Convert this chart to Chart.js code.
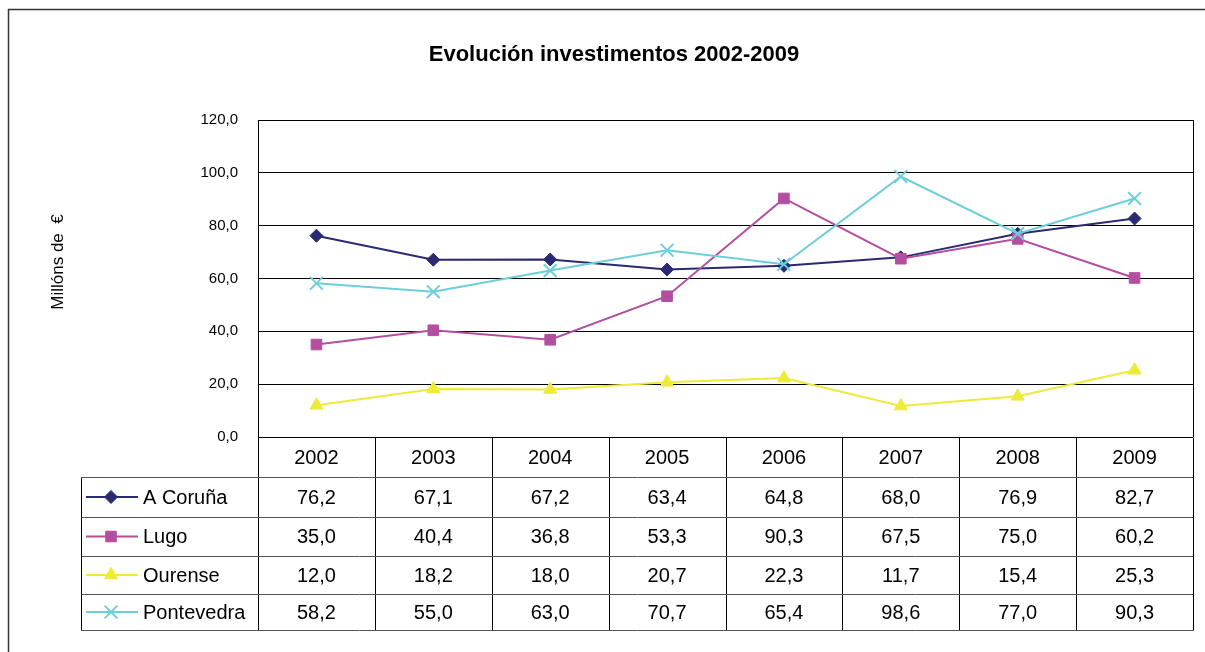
<!DOCTYPE html>
<html><head><meta charset="utf-8">
<script src="https://cdn.jsdelivr.net/npm/chart.js@4/dist/chart.umd.min.js"></script>
<style>html,body{margin:0;padding:0;background:#fff;overflow:hidden}canvas{display:block}</style>
</head><body><canvas id="c" width="1205" height="652"></canvas>
<script>
const years = ['2002','2003','2004','2005','2006','2007','2008','2009'];
const aCoruna    = [76.2, 67.1, 67.2, 63.4, 64.8, 68.0, 76.9, 82.7];
const lugo       = [35.0, 40.4, 36.8, 53.3, 90.3, 67.5, 75.0, 60.2];
const ourense    = [12.0, 18.2, 18.0, 20.7, 22.3, 11.7, 15.4, 25.3];
const pontevedra = [58.2, 55.0, 63.0, 70.7, 65.4, 98.6, 77.0, 90.3];
const seriesNames = ['A Coruña', 'Lugo', 'Ourense', 'Pontevedra'];
const yMin = 0, yMax = 120, yStep = 20;
const chartTitle = 'Evolución investimentos 2002-2009';
const yAxisTitle = 'Millóns de  €';

const FONT = '"Liberation Sans", Arial, sans-serif';
Chart.defaults.font.family = FONT;
Chart.defaults.color = '#000';

const fmt = v => Number(v).toFixed(1).replace('.', ',');

const styles = [
  {color:'#2A2A72', pointStyle:'rectRot', radius:6.5, bw:1},
  {color:'#B44FA0', pointStyle:'rect', radius:7.5, bw:1},
  {color:'#EEEA3A', pointStyle:'triangle', radius:7.5, bw:1},
  {color:'#6DCED9', pointStyle:'crossRot', radius:9, bw:2}
];
const seriesData = [aCoruna, lugo, ourense, pontevedra];

function drawMarker(ctx, st, x, y) {
  ctx.save();
  ctx.fillStyle = st.color; ctx.strokeStyle = st.color; ctx.lineWidth = st.bw;
  if (Chart.helpers && Chart.helpers.drawPoint) {
    Chart.helpers.drawPoint(ctx, {pointStyle: st.pointStyle, radius: st.radius, borderWidth: st.bw, rotation: 0}, x, y);
  }
  ctx.restore();
}

const frameAndTable = {
  id: 'frameAndTable',
  beforeDraw(chart) {
    const ctx = chart.ctx;
    ctx.save();
    ctx.fillStyle = '#fff';
    ctx.fillRect(0, 0, chart.width, chart.height);
    ctx.strokeStyle = '#333';
    ctx.lineWidth = 1.5;
    ctx.strokeRect(8.5, 9.5, chart.width + 20, chart.height + 20);
    ctx.restore();
  },
  afterDraw(chart) {
    const ctx = chart.ctx, ca = chart.chartArea, xs = chart.scales.x;
    const n = years.length;
    const step = (ca.right - ca.left) / n;
    const rows = [ca.bottom, 477, 517, 556, 594, 630];
    const legendLeft = 81;
    const a = v => Math.round(v) + 0.5;
    ctx.save();
    // y axis title
    ctx.save();
    ctx.translate(58, 262);
    ctx.rotate(-Math.PI / 2);
    ctx.font = '17px ' + FONT;
    ctx.fillStyle = '#000';
    ctx.textAlign = 'center'; ctx.textBaseline = 'middle';
    ctx.fillText(yAxisTitle, 0, 0);
    ctx.restore();

    ctx.lineWidth = 1;
    // plot right border
    ctx.strokeStyle = '#000';
    ctx.beginPath(); ctx.moveTo(a(ca.right), ca.top); ctx.lineTo(a(ca.right), ca.bottom); ctx.stroke();
    // table vertical lines
    for (let i = 0; i <= n; i++) {
      const xx = a(ca.left + i * step);
      ctx.beginPath(); ctx.moveTo(xx, a(rows[0])); ctx.lineTo(xx, a(rows[5])); ctx.stroke();
    }
    ctx.beginPath(); ctx.moveTo(a(legendLeft), a(rows[1])); ctx.lineTo(a(legendLeft), a(rows[5])); ctx.stroke();
    // horizontal lines
    ctx.strokeStyle = '#555';
    for (let r = 1; r <= 5; r++) {
      ctx.beginPath(); ctx.moveTo(a(legendLeft), a(rows[r])); ctx.lineTo(a(ca.right), a(rows[r])); ctx.stroke();
    }
    // texts
    ctx.fillStyle = '#000';
    ctx.font = '20px ' + FONT;
    ctx.textAlign = 'center'; ctx.textBaseline = 'middle';
    years.forEach((yr, i) => ctx.fillText(yr, xs.getPixelForValue(i), (rows[0] + rows[1]) / 2 + 1));
    seriesData.forEach((arr, s) => {
      const cy = (rows[s + 1] + rows[s + 2]) / 2 + 1;
      arr.forEach((v, i) => ctx.fillText(fmt(v), xs.getPixelForValue(i), cy));
    });
    // legend keys
    seriesNames.forEach((name, s) => {
      const cy = (rows[s + 1] + rows[s + 2]) / 2;
      const st = styles[s];
      ctx.strokeStyle = st.color; ctx.lineWidth = 2;
      ctx.beginPath(); ctx.moveTo(86, cy); ctx.lineTo(138, cy); ctx.stroke();
      drawMarker(ctx, st, 111, cy);
      ctx.fillStyle = '#000'; ctx.textAlign = 'left';
      ctx.fillText(name, 143, cy + 1);
    });
    ctx.restore();
  }
};

new Chart(document.getElementById('c'), {
  type: 'line',
  data: {
    labels: years,
    datasets: seriesData.map((arr, s) => ({
      label: seriesNames[s],
      data: arr,
      borderColor: styles[s].color,
      backgroundColor: styles[s].color,
      pointBackgroundColor: styles[s].color,
      pointBorderColor: styles[s].color,
      pointStyle: styles[s].pointStyle,
      pointRadius: styles[s].radius,
      pointBorderWidth: styles[s].bw,
      borderWidth: 2,
      tension: 0,
      fill: false,
      order: 4 - s
    }))
  },
  options: {
    responsive: false,
    animation: false,
    events: [],
    layout: {padding: {left: 35, right: 12, top: 0, bottom: 215}},
    plugins: {
      legend: {display: false},
      tooltip: {enabled: false},
      title: {
        display: true, text: chartTitle, color: '#000',
        font: {size: 22, weight: 'bold', family: FONT},
        padding: {top: 42, bottom: 51.6}
      }
    },
    scales: {
      x: {type: 'category', offset: true, display: false, grid: {display: false}},
      y: {
        min: yMin, max: yMax,
        ticks: {stepSize: yStep, color: '#000', font: {size: 15}, padding: 20, callback: v => fmt(v)},
        grid: {color: '#000', lineWidth: 1, drawTicks: false},
        border: {color: '#000', width: 1},
        title: {display: false},
        afterFit(s) { s.width = 223; }
      }
    }
  },
  plugins: [frameAndTable]
});
</script>
</body></html>
